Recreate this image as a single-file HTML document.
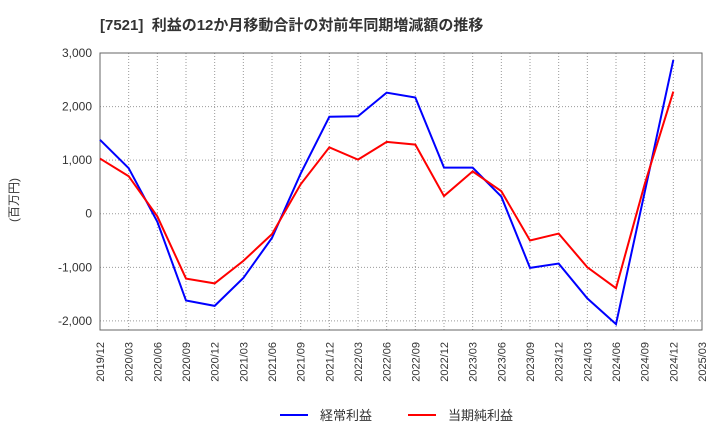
<!DOCTYPE html>
<html><head><meta charset="utf-8"><style>
body{margin:0;background:#fff;font-family:"Liberation Sans","Noto Sans CJK JP",sans-serif}
</style></head><body>
<svg width="720" height="440" xmlns="http://www.w3.org/2000/svg">
<text x="100" y="30" font-size="15" font-weight="bold" fill="#333" style="white-space:pre" font-family="Liberation Sans,Noto Sans CJK JP,sans-serif">[7521]&#160;&#160;利益の12か月移動合計の対前年同期増減額の推移</text>
<g id="grid"></g><g id="axes"></g><g id="series"></g>
<text x="18" y="200" font-size="12" fill="#333" transform="rotate(-90 18 200)" text-anchor="middle" font-family="Liberation Sans,Noto Sans CJK JP,sans-serif">(百万円)</text>
<g>
<line x1="280" y1="415" x2="308" y2="415" stroke="#0000ff" stroke-width="2"/>
<text x="320" y="420" font-size="13" fill="#333" font-family="Liberation Sans,Noto Sans CJK JP,sans-serif">経常利益</text>
<line x1="408" y1="415" x2="436" y2="415" stroke="#ff0000" stroke-width="2"/>
<text x="448" y="420" font-size="13" fill="#333" font-family="Liberation Sans,Noto Sans CJK JP,sans-serif">当期純利益</text>
</g>
</svg>
<script>
const categories=["2019/12","2020/03","2020/06","2020/09","2020/12","2021/03","2021/06","2021/09","2021/12","2022/03","2022/06","2022/09","2022/12","2023/03","2023/06","2023/09","2023/12","2024/03","2024/06","2024/09","2024/12","2025/03"];
const ordinaryProfit=[1380,850,-150,-1620,-1720,-1200,-450,750,1810,1820,2260,2170,860,860,320,-1010,-930,-1580,-2060,400,2870];
const netProfit=[1030,700,-50,-1210,-1300,-880,-380,550,1240,1010,1340,1290,330,790,420,-500,-370,-1000,-1390,550,2280];
const yTicks=[3000,2000,1000,0,-1000,-2000];
const yTickLabels=["3,000","2,000","1,000","0","-1,000","-2,000"];
const X0=100,X1=702,Y0=53,Y1=330,YMAX=3000,YMIN=-2170;
const ns="http://www.w3.org/2000/svg";
const xs=i=>X0+(X1-X0)*i/(categories.length-1);
const ys=v=>Y0+(YMAX-v)/(YMAX-YMIN)*(Y1-Y0);
function mk(t,a,p){const e=document.createElementNS(ns,t);for(const k in a)e.setAttribute(k,a[k]);p.appendChild(e);return e;}
const grid=document.getElementById('grid'),axes=document.getElementById('axes'),ser=document.getElementById('series');
categories.forEach((c,i)=>{
 const l=mk('line',{x1:xs(i),x2:xs(i),y1:Y0,y2:Y1,stroke:'#999','stroke-dasharray':'1,2'},grid);
 
 
 const x=xs(i),t=mk('text',{x:x,y:338,'font-size':11,fill:'#333','text-anchor':'end',transform:`rotate(-90 ${x+4} 338)`},axes);
 t.textContent=c;
 
 
});
yTicks.forEach((v,i)=>{
 const l=mk('line',{x1:X0,x2:X1,y1:ys(v),y2:ys(v),stroke:'#999','stroke-dasharray':'1,2'},grid);
 
 
 const t=mk('text',{x:92,y:ys(v)+4,'font-size':12,fill:'#333','text-anchor':'end'},axes);
 t.textContent=yTickLabels[i];
 
 
});
const r=mk('rect',{x:X0,y:Y0,width:X1-X0,height:Y1-Y0,fill:'none',stroke:'#666'},axes);


function line(d,c,n){const p=mk('polyline',{points:d.map((v,i)=>xs(i)+','+ys(v)).join(' '),fill:'none',stroke:c,'stroke-width':2},ser);
 
 }
line(ordinaryProfit,'#0000ff','ordinary-profit-line');
line(netProfit,'#ff0000','net-profit-line');
</script>
</body></html>
